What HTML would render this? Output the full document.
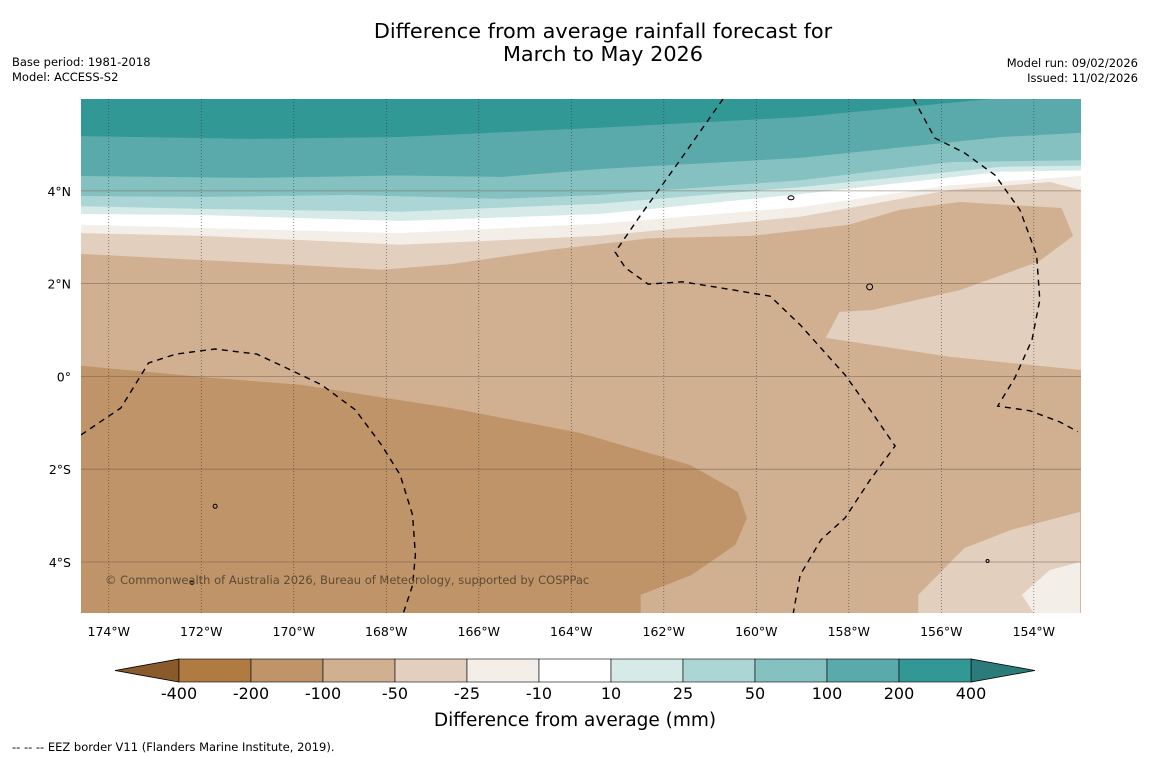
<!DOCTYPE html>
<html><head><meta charset="utf-8"><style>
body{margin:0;background:#fff;}
svg{display:block;font-family:"DejaVu Sans","Liberation Sans",sans-serif;}
</style></head><body>
<svg id="c" width="1150" height="758" viewBox="0 0 1150 758">
<rect width="1150" height="758" fill="#fff"/>
<text x="603" y="38" font-size="20.8" text-anchor="middle">Difference from average rainfall forecast for</text>
<text x="603" y="61" font-size="20.8" text-anchor="middle">March to May 2026</text>
<text x="12" y="66" font-size="11.5">Base period: 1981-2018</text>
<text x="12" y="81" font-size="11.5">Model: ACCESS-S2</text>
<text x="1138" y="67" font-size="11.5" text-anchor="end">Model run: 09/02/2026</text>
<text x="1138" y="82" font-size="11.5" text-anchor="end">Issued: 11/02/2026</text>
<g id="map"></g>
<g id="cbar"></g>
<text x="575" y="726" font-size="18.5" text-anchor="middle">Difference from average (mm)</text>
<text x="12" y="751" font-size="11.5">--  --  -- EEZ border V11 (Flanders Marine Institute, 2019).</text>
</svg>
<script>
const lonTicks=[-174,-172,-170,-168,-166,-164,-162,-160,-158,-156,-154];
const latTicks=[4,2,0,-2,-4];
const levels=["-400","-200","-100","-50","-25","-10","10","25","50","100","200","400"];
const bandColors=["#b07a43","#bf9469","#d1b092","#e2cfbe","#f3eee8","#ffffff","#d6eae8","#acd6d5","#84c1c0","#5aaaac","#329896"];
const lowExt="#8a5a2c", highExt="#2a7b7a";
// contour boundaries [lon,lat]
const bTop200=[[-174.6,5.18],[-170.9,5.12],[-167.7,5.16],[-163.4,5.36],[-159.05,5.59],[-154.95,5.98]];
const bTop100=[[-174.6,4.32],[-170.9,4.28],[-167.7,4.33],[-165.5,4.30],[-163.4,4.47],[-159.05,4.71],[-154.7,5.16],[-153.0,5.25]];
const bTop50=[[-174.6,3.89],[-172.0,3.87],[-168.8,3.91],[-165.5,3.83],[-163.4,3.91],[-159.05,4.23],[-155.8,4.62],[-153.0,4.66]];
const bTop25=[[-174.6,3.67],[-172.0,3.61],[-167.7,3.55],[-163.4,3.72],[-159.05,4.08],[-154.7,4.52],[-153.0,4.54]];
const bTop10=[[-174.6,3.50],[-172.0,3.48],[-167.7,3.35],[-163.4,3.50],[-159.05,3.93],[-154.7,4.41],[-153.0,4.44]];
const bLowM10=[[-174.6,3.27],[-172.0,3.20],[-167.7,3.09],[-163.4,3.29],[-159.05,3.65],[-155.8,4.12],[-153.0,4.32]];
const bLowM25=[[-174.6,3.09],[-172.0,3.03],[-169.85,2.94],[-167.7,2.84],[-163.4,3.03],[-159.05,3.44],[-155.8,4.02],[-153.65,4.19],[-153.0,4.02]];
const bLowM50=[[-174.6,2.64],[-172.0,2.51],[-169.85,2.40],[-168.1,2.30],[-166.6,2.42],[-164.45,2.73],[-162.3,2.98],[-160.1,3.03],[-158.0,3.27],[-156.9,3.59],[-155.6,3.76],[-153.4,3.63],[-153.15,3.03],[-153.9,2.47],[-155.6,1.86],[-157.5,1.43],[-158.2,1.39],[-158.5,0.83],[-155.8,0.42],[-153.0,0.14]];
const dark200=[[-174.6,0.23],[-172.0,-0.01],[-169.85,-0.18],[-166.6,-0.68],[-163.8,-1.22],[-161.43,-1.91],[-160.4,-2.49],[-160.2,-3.05],[-160.45,-3.63],[-161.4,-4.28],[-162.5,-4.71],[-162.5,-5.1],[-174.6,-5.1]];
const lightBR=[[-156.5,-5.1],[-156.5,-4.71],[-155.5,-3.7],[-154.5,-3.31],[-153.0,-2.92],[-153.0,-5.1]];
const paleBR=[[-154.26,-4.71],[-153.65,-4.17],[-153.0,-4.0],[-153.0,-5.1],[-154.0,-5.1]];
const eezA=[[-174.6,-1.26],[-173.74,-0.68],[-173.14,0.29],[-172.55,0.48],[-171.7,0.59],[-170.8,0.48],[-170.07,0.14],[-169.4,-0.18],[-168.67,-0.72],[-168.1,-1.48],[-167.7,-2.12],[-167.43,-2.99],[-167.37,-3.85],[-167.43,-4.5],[-167.63,-5.1]];
const eezB=[[-160.72,5.98],[-161.65,4.66],[-162.5,3.48],[-163.05,2.68],[-162.83,2.34],[-162.34,1.99],[-161.6,2.04],[-160.78,1.91],[-159.7,1.73],[-159.05,1.11],[-158.08,0.03],[-157.54,-0.72],[-157.0,-1.5],[-157.54,-2.23],[-158.08,-3.05],[-158.6,-3.52],[-159.05,-4.28],[-159.2,-5.1]];
const eezC=[[-156.6,5.98],[-156.14,5.14],[-155.5,4.82],[-154.84,4.34],[-154.3,3.59],[-153.94,2.62],[-153.87,1.65],[-154.04,0.79],[-154.41,-0.03],[-154.78,-0.64],[-154.09,-0.74],[-153.44,-0.98],[-153.05,-1.19]];
const LON0=-174.6,LON1=-152.98,LAT0=5.98,LAT1=-5.1;
const MX0=81,MX1=1081,MY0=99,MY1=613;
function sx(lon){return MX0+(lon-LON0)/(LON1-LON0)*(MX1-MX0);}
function sy(lat){return MY0+(LAT0-lat)/(LAT0-LAT1)*(MY1-MY0);}
const NS="http://www.w3.org/2000/svg";
const map=document.getElementById('map');
function mk(tag,attrs,parent){const e=document.createElementNS(NS,tag);for(const k in attrs)e.setAttribute(k,attrs[k]);parent.appendChild(e);return e;}
function pts(a){return a.map(p=>sx(p[0]).toFixed(1)+','+sy(p[1]).toFixed(1)).join(' ');}
const clip=mk('clipPath',{id:'mc'},map);mk('rect',{x:MX0,y:MY0,width:MX1-MX0,height:MY1-MY0},clip);
const g=mk('g',{'clip-path':'url(#mc)'},map);
let r=mk('rect',{x:MX0,y:MY0,width:MX1-MX0,height:MY1-MY0,fill:bandColors[2]},g);


function topRegion(b,color,name){
  const poly=[[LON0,LAT0+1]].concat(b).concat([[LON1+1,b[b.length-1][1]],[LON1+1,LAT0+1]]);
  const e=mk('polygon',{points:pts(poly),fill:color},g);
  
  
}
topRegion(bLowM50,bandColors[3],'region-minus50');
topRegion(bLowM25,bandColors[4],'region-minus25');
topRegion(bLowM10,bandColors[5],'region-near-normal');
topRegion(bTop10,bandColors[6],'region-plus10');
topRegion(bTop25,bandColors[7],'region-plus25');
topRegion(bTop50,bandColors[8],'region-plus50');
topRegion(bTop100,bandColors[9],'region-plus100');
topRegion(bTop200,bandColors[10],'region-plus200');
[[dark200,bandColors[1],'region-minus200'],[lightBR,bandColors[3],'region-minus50-south'],[paleBR,bandColors[4],'region-minus25-south']].forEach(d=>{
  const e=mk('polygon',{points:pts(d[0]),fill:d[1]},g);
  
  
});
lonTicks.forEach(l=>{
  const e=mk('line',{x1:sx(l),x2:sx(l),y1:MY0,y2:MY1,stroke:'#333','stroke-width':0.7,'stroke-dasharray':'1,2','stroke-opacity':0.8},g);
  
  
  const t=mk('text',{x:sx(l),y:636,'font-size':12.5,'text-anchor':'middle'},map);
  t.textContent=Math.abs(l)+'°W';
  
  
});
latTicks.forEach(l=>{
  const e=mk('line',{x1:MX0,x2:MX1,y1:sy(l),y2:sy(l),stroke:'#6b5a4a','stroke-width':0.8,'stroke-opacity':0.6},g);
  
  
  const t=mk('text',{x:71,y:sy(l)+5,'font-size':12.5,'text-anchor':'end'},map);
  t.textContent=l===0?'0°':Math.abs(l)+'°'+(l>0?'N':'S');
  
  
});
[eezA,eezB,eezC].forEach(b=>{
  const e=mk('polyline',{points:pts(b),fill:'none',stroke:'#000','stroke-width':1.4,'stroke-dasharray':'6,5'},g);
  
  
});
[[-159.25,3.85,3,2],[-157.55,1.93,3,3],[-171.7,-2.8,2,2],[-172.2,-4.45,2,1.5],[-155.0,-3.98,1.5,1.5]].forEach(p=>{
  const e=mk('ellipse',{cx:sx(p[0]),cy:sy(p[1]),rx:p[2],ry:p[3],fill:'none',stroke:'#000','stroke-width':1},g);
  
  
});
const cp=mk('text',{x:105,y:584,'font-size':11.5,fill:'#5e4b35'},map);
cp.textContent='© Commonwealth of Australia 2026, Bureau of Meteorology, supported by COSPPac';


// colorbar
const cb=document.getElementById('cbar');
const CX0=179,CW=72,CY=659,CH=23;
function cx(i){return CX0+i*CW;}
let ex=mk('polygon',{points:`${cx(0)},${CY} ${cx(0)},${CY+CH} 115,${CY+CH/2}`,fill:lowExt,stroke:'#000','stroke-width':0.8},cb);


const n=bandColors.length;
ex=mk('polygon',{points:`${cx(n)},${CY} ${cx(n)},${CY+CH} 1035,${CY+CH/2}`,fill:highExt,stroke:'#000','stroke-width':0.8},cb);


bandColors.forEach((c,i)=>{
  const e=mk('rect',{x:cx(i),y:CY,width:CW,height:CH,fill:c,stroke:'#000','stroke-width':0.6},cb);
  
  
});
levels.forEach((l,i)=>{
  const t=mk('text',{x:cx(i),y:699,'font-size':16,'text-anchor':'middle'},cb);
  t.textContent=l;
  
  
});
</script>
</body></html>
